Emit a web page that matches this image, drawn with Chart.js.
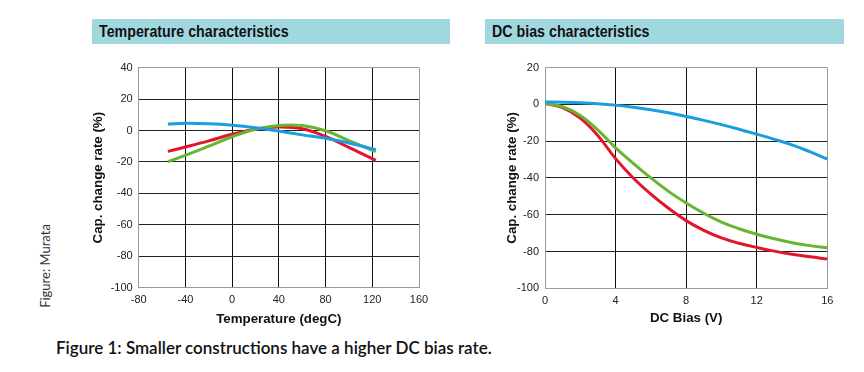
<!DOCTYPE html>
<html>
<head>
<meta charset="utf-8">
<script src="https://cdn.jsdelivr.net/npm/chart.js@4/dist/chart.umd.min.js"></script>
<style>
  body { margin: 0; background: #fff; }
  #page { position: relative; width: 864px; height: 372px; overflow: hidden; background: #fff; }
  .head {
    position: absolute; height: 25px; background: #a1d8e0;
    font: bold 16px "Liberation Sans", sans-serif;
    color: #111; line-height: 25px; padding-left: 7px; box-sizing: border-box; white-space: nowrap;
  }
  .head span { display: inline-block; transform: scaleX(0.89); transform-origin: left center; }
  canvas { position: absolute; }
  #credit {
    position: absolute; left: 45px; top: 266px; transform: translate(-50%, -50%) rotate(-90deg);
    font: 13px Lato, sans-serif; color: #333; white-space: nowrap;
  }
  #caption {
    position: absolute; left: 56px; top: 337px;
    font: 600 17px Lato, sans-serif; color: #111; white-space: nowrap;
  }
</style>
</head>
<body>
<div id="page">
  <div class="head" style="left:92px; top:19px; width:358px;"><span>Temperature characteristics</span></div>
  <div class="head" style="left:485px; top:19px; width:359px;"><span>DC bias characteristics</span></div>
  <canvas id="tempChart" width="360" height="280" style="left:80px; top:55px;"></canvas>
  <canvas id="biasChart" width="370" height="280" style="left:480px; top:55px;"></canvas>
  <div id="credit">Figure: Murata</div>
  <div id="caption">Figure 1: Smaller constructions have a higher DC bias rate.</div>
</div>
<script>
// Temperature characteristics (degC vs % change)
const tempX = [-55, -40, -20, 0, 20, 40, 60, 80, 100, 123];
const tempBlue = [4.1, 4.6, 4.3, 3.4, 1.8, -0.4, -2.8, -5, -8, -12.3];
const tempRed = [-13.3, -10.5, -6.6, -2.4, 0.8, 2.2, 1.1, -3.8, -10.8, -19];
const tempGreen = [-19.8, -15.8, -10, -4, 0.8, 3.2, 3.1, -0.2, -6.5, -13.5];

// DC bias characteristics (V vs % change)
const biasX = [0, 1, 2, 3, 4, 5, 6, 7, 8, 9, 10, 11, 12, 13, 14, 15, 16];
const biasBlue = [1.3, 1.2, 0.9, 0.4, -0.4, -1.5, -2.9, -4.6, -6.6, -8.7, -11, -13.5, -16.2, -19, -22, -25.7, -29.7];
const biasRed = [0.5, -1.8, -7.5, -17, -29.5, -40, -48.8, -56.5, -63.2, -68.5, -72.6, -75.5, -77.8, -79.8, -81.5, -82.9, -84];
const biasGreen = [0.5, -1.3, -6, -14, -23.6, -32, -40, -47.3, -53.6, -59.2, -64, -67.6, -70.6, -73.1, -75.2, -76.8, -78];

const BLUE = '#1b9de2', RED = '#e3142c', GREEN = '#68b531';
const EDGE = '#9a9a9a';

function pts(xs, ys) {
  return xs.map((x, i) => ({ x, y: ys[i] }));
}

function line(xs, ys, color) {
  return {
    data: pts(xs, ys), borderColor: color, borderWidth: 3,
    pointRadius: 0, fill: false, tension: 0.4
  };
}

function gridColor(min, max, inner) {
  return ctx => (ctx.tick && (ctx.tick.value === min || ctx.tick.value === max)) ? EDGE : inner;
}

function makeChart(id, cfg) {
  const tickFont = { family: 'Liberation Sans', size: 11 };
  const titleFont = { family: 'Liberation Sans', size: 13.3, weight: 'bold' };
  return new Chart(document.getElementById(id), {
    type: 'line',
    data: { datasets: cfg.datasets },
    options: {
      responsive: false, animation: false,
      layout: { padding: { top: cfg.top, right: cfg.right, left: 0, bottom: 0 } },
      plugins: { legend: { display: false }, tooltip: { enabled: false } },
      scales: {
        x: {
          type: 'linear', min: cfg.xMin, max: cfg.xMax,
          ticks: { stepSize: cfg.xStep, font: tickFont, color: '#222', padding: 6, maxRotation: 0 },
          grid: { color: gridColor(cfg.xMin, cfg.xMax, '#111'), drawTicks: false, lineWidth: 1 },
          border: { color: EDGE, width: 1 },
          title: { display: true, text: cfg.xTitle, font: titleFont, color: '#111', padding: { top: 0, bottom: cfg.xTitlePad } },
          afterFit: s => { s.height = cfg.xAxisH; }
        },
        y: {
          min: cfg.yMin, max: cfg.yMax,
          ticks: { stepSize: 20, font: tickFont, color: '#222', padding: 6 },
          grid: { color: gridColor(cfg.yMin, cfg.yMax, '#222'), drawTicks: false, lineWidth: 1 },
          border: { color: EDGE, width: 1 },
          title: { display: true, text: 'Cap. change rate (%)', font: titleFont, color: '#111', padding: { top: cfg.yTitlePad, bottom: 0 } },
          afterFit: s => { s.width = cfg.yAxisW; }
        }
      }
    }
  });
}

makeChart('tempChart', {
  datasets: [line(tempX, tempBlue, BLUE), line(tempX, tempGreen, GREEN), line(tempX, tempRed, RED)],
  xMin: -80, xMax: 160, xStep: 40, yMin: -100, yMax: 40,
  xTitle: 'Temperature (degC)',
  top: 12.3, right: 21, yAxisW: 58.7, xAxisH: 47.3, xTitlePad: 7.5, yTitlePad: 10
});

makeChart('biasChart', {
  datasets: [line(biasX, biasBlue, BLUE), line(biasX, biasGreen, GREEN), line(biasX, biasRed, RED)],
  xMin: 0, xMax: 16, xStep: 4, yMin: -100, yMax: 20,
  xTitle: 'DC Bias (V)',
  top: 11.7, right: 22.7, yAxisW: 65, xAxisH: 46.7, xTitlePad: 8.5, yTitlePad: 24
});
</script>
</body>
</html>
